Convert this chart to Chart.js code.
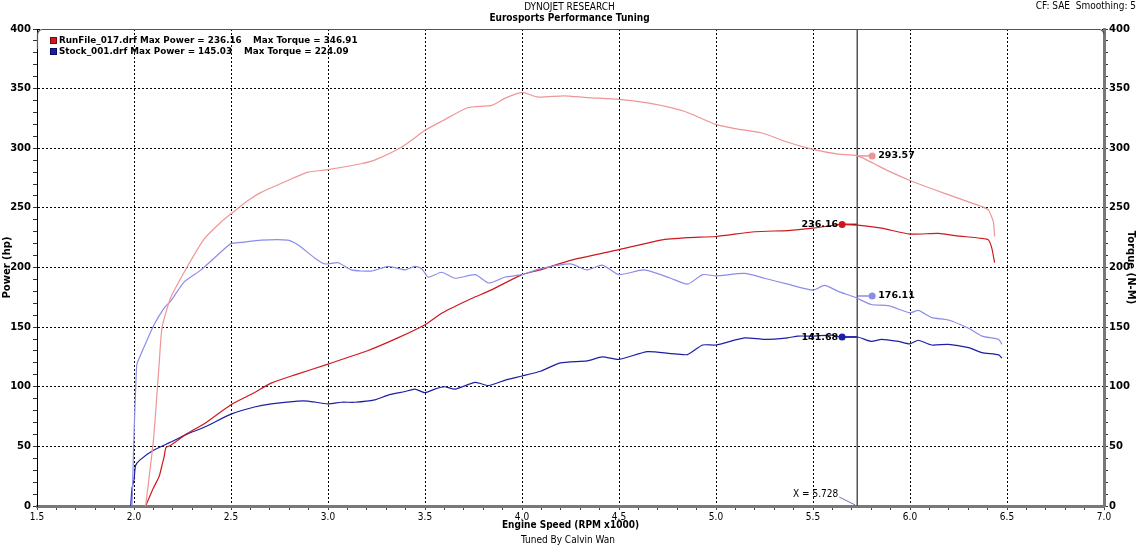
<!DOCTYPE html>
<html>
<head>
<meta charset="utf-8">
<script src="https://cdn.jsdelivr.net/npm/chart.js@4.4.1/dist/chart.umd.min.js"></script>
<style>
  html, body { margin: 0; padding: 0; background: #fff; overflow: hidden; }
  #wrap { position: relative; width: 1139px; height: 546px; }
</style>
</head>
<body>
<div id="wrap"><canvas id="dyno"></canvas></div>
<script>
// RunFile_017 power (hp) vs engine speed (RPM x1000)
const RUN_POWER_RPM = [2.06, 2.10, 2.13, 2.147, 2.155, 2.165, 2.19, 2.276, 2.362, 2.5, 2.62, 2.707, 2.83, 3.0, 3.2, 3.36, 3.5, 3.59, 3.74, 3.84, 4.0, 4.095, 4.25, 4.5, 4.716, 4.853, 5.0, 5.2, 5.37, 5.5, 5.646, 5.73, 5.853, 6.0, 6.147, 6.233, 6.371, 6.405, 6.422, 6.436];
const RUN_POWER_HP = [0, 15, 25, 36, 41, 49, 51, 61, 69, 85, 95, 103, 110, 119, 130, 141, 152, 162, 174, 181, 194, 198, 206, 215, 223, 225, 226, 230, 231, 233, 236.16, 235.5, 233, 228, 228.6, 226.7, 224.4, 223, 216, 204];

// RunFile_017 torque (N-M)
const RUN_TORQUE_RPM = [2.06, 2.10, 2.13, 2.145, 2.19, 2.276, 2.362, 2.448, 2.5, 2.586, 2.655, 2.793, 2.897, 3.0, 3.17, 3.24, 3.38, 3.5, 3.59, 3.72, 3.845, 3.914, 4.0, 4.078, 4.216, 4.336, 4.5, 4.647, 4.767, 4.853, 5.0, 5.112, 5.233, 5.37, 5.5, 5.63, 5.73, 5.888, 6.0, 6.13, 6.233, 6.371, 6.405, 6.43, 6.436];
const RUN_TORQUE_NM = [0, 55, 120, 150, 175, 201, 224, 238, 245, 256, 263, 273, 280, 282, 287, 290, 301, 315, 323, 334, 336, 342, 346.9, 343, 344, 342.5, 341, 338, 334, 330, 320, 316, 313, 305, 299, 295, 293.6, 281, 273, 265, 259, 251, 248, 238, 226];

// Stock_001 power (hp)
const STOCK_POWER_RPM = [1.983, 1.99, 2.0, 2.008, 2.03, 2.10, 2.19, 2.276, 2.362, 2.5, 2.621, 2.707, 2.845, 2.897, 3.0, 3.069, 3.138, 3.241, 3.31, 3.397, 3.448, 3.5, 3.55, 3.60, 3.655, 3.759, 3.828, 3.914, 4.0, 4.095, 4.198, 4.336, 4.414, 4.5, 4.647, 4.767, 4.853, 4.931, 5.0, 5.147, 5.25, 5.37, 5.422, 5.5, 5.595, 5.646, 5.73, 5.80, 5.853, 5.94, 6.0, 6.043, 6.112, 6.198, 6.302, 6.371, 6.457, 6.474];
const STOCK_POWER_HP = [0, 15, 22, 34, 38.5, 46.7, 53.6, 60.5, 66, 77, 83, 85.6, 88, 88, 85.6, 87, 87, 89, 93, 96, 98, 95, 98, 100, 98, 103.6, 101, 105.6, 109, 113, 120, 121.7, 125, 123, 129.4, 127.8, 127, 135, 135, 141, 139.7, 141, 142.5, 142.5, 143.3, 141.7, 141.7, 138, 139.7, 138, 136, 139, 135, 135.6, 132.8, 128.6, 126.7, 124];

// Stock_001 torque (N-M)
const STOCK_TORQUE_RPM = [1.99, 2.0, 2.01, 2.015, 2.035, 2.10, 2.155, 2.19, 2.259, 2.345, 2.448, 2.5, 2.552, 2.655, 2.793, 2.845, 2.931, 2.983, 3.052, 3.12, 3.224, 3.31, 3.397, 3.448, 3.483, 3.517, 3.586, 3.655, 3.759, 3.828, 3.914, 4.0, 4.095, 4.25, 4.336, 4.414, 4.5, 4.63, 4.767, 4.853, 4.931, 5.0, 5.147, 5.25, 5.37, 5.5, 5.56, 5.63, 5.716, 5.80, 5.888, 6.0, 6.043, 6.112, 6.198, 6.302, 6.371, 6.457, 6.474];
const STOCK_TORQUE_NM = [0, 60, 105, 119, 127, 151, 166, 172, 188, 198, 213, 220, 221, 223, 223, 219, 208, 203, 204, 198, 197, 201, 198, 201, 199, 192, 196, 191, 194, 187, 192, 194, 199, 203, 198, 202, 194, 198, 191, 186, 194, 193, 195, 191, 186, 181, 185, 180, 175, 169, 168, 162, 164, 158, 156, 149, 142.5, 139.7, 135.6];

// legend text
const RUN_NAMES = ["RunFile_017.drf", "Stock_001.drf"];
const MAX_POWER = [236.16, 145.03];
const MAX_TORQUE = [346.91, 224.09];

// cursor and its readouts (run power, run torque, stock torque, stock power)
const CURSOR_RPM = 5.728;
const MARK_RPM = [5.65, 5.805, 5.805, 5.65];
const MARK_VAL = [236.16, 293.57, 176.11, 141.68];

const C_RUN_HP = "rgb(205,25,30)";
const C_RUN_NM = "rgb(238,150,150)";
const C_STK_HP = "rgb(30,30,165)";
const C_STK_NM = "rgb(140,140,232)";
const MARK_COLORS = [C_RUN_HP, C_RUN_NM, C_STK_NM, C_STK_HP];

const COND = "'DejaVu Sans Condensed', 'Liberation Sans Narrow', 'DejaVu Sans', sans-serif";
const WIDE = "'DejaVu Sans', Verdana, sans-serif";

function pts(xs, ys) {
  return xs.map((x, i) => ({ x: x, y: ys[i] }));
}

function curve(label, xs, ys, color, axis) {
  return {
    label: label,
    data: pts(xs, ys),
    yAxisID: axis,
    borderColor: color,
    borderWidth: 1.2,
    pointRadius: 0,
    tension: 0.2,
    fill: false,
  };
}

const markerSets = MARK_RPM.map((r, i) => ({
  label: "mark" + i,
  data: [{ x: CURSOR_RPM, y: MARK_VAL[i] }, { x: r, y: MARK_VAL[i] }],
  borderColor: i == 0 ? "#222" : MARK_COLORS[i],
  backgroundColor: MARK_COLORS[i],
  borderWidth: 1.5,
  pointRadius: [0, 3.5],
  pointBorderWidth: 0,
}));

const overlay = {
  id: "overlay",
  afterDraw(chart) {
    const { ctx, chartArea: a, scales } = chart;
    const sx = scales.x, sy = scales.y;
    ctx.save();

    // top frame with rounded corners
    ctx.strokeStyle = "#555";
    ctx.lineWidth = 1.2;
    ctx.beginPath();
    ctx.moveTo(a.left + 0.5, a.top + 20);
    ctx.arcTo(a.left + 0.5, a.top + 0.5, a.left + 10, a.top + 0.5, 5);
    ctx.lineTo(a.right - 8, a.top + 0.5);
    ctx.arcTo(a.right, a.top + 0.5, a.right, a.top + 10, 5);
    ctx.stroke();

    ctx.fillStyle = "#000";
    ctx.textBaseline = "middle";
    ctx.font = "10px " + COND;
    ctx.textAlign = "right";
    ctx.fillText("CF: SAE  Smoothing: 5", 1136, 6);

    ctx.textAlign = "center";
    ctx.fillText("Tuned By Calvin Wan", 568, 540);

    // legend inside plot
    const sq = [[C_RUN_HP, "rgb(120,10,10)"], [C_STK_HP, "rgb(10,10,90)"]];
    const torqueX = [253, 244];
    ctx.font = "bold 8.8px " + WIDE;
    ctx.textAlign = "left";
    for (let i = 0; i < RUN_NAMES.length; i++) {
      const yy = a.top + 12 + i * 11;
      ctx.fillStyle = sq[i][0];
      ctx.fillRect(a.left + 13, yy - 4, 7, 7);
      ctx.strokeStyle = sq[i][1];
      ctx.lineWidth = 1;
      ctx.strokeRect(a.left + 13.5, yy - 3.5, 6, 6);
      ctx.fillStyle = "#000";
      ctx.fillText(RUN_NAMES[i] + " Max Power = " + MAX_POWER[i].toFixed(2), a.left + 22, yy);
      ctx.fillText("Max Torque = " + MAX_TORQUE[i].toFixed(2), torqueX[i], yy);
    }

    // readout labels
    ctx.font = "bold 9.5px " + WIDE;
    for (let i = 0; i < MARK_RPM.length; i++) {
      const px = sx.getPixelForValue(MARK_RPM[i]);
      const py = sy.getPixelForValue(MARK_VAL[i]);
      if (MARK_RPM[i] < CURSOR_RPM) {
        ctx.textAlign = "right";
        ctx.fillText(MARK_VAL[i].toFixed(2), px - 4, py);
      } else {
        ctx.textAlign = "left";
        ctx.fillText(MARK_VAL[i].toFixed(2), px + 6, py);
      }
    }

    // cursor label
    const cx = sx.getPixelForValue(CURSOR_RPM);
    ctx.font = "10px " + COND;
    ctx.textAlign = "right";
    ctx.fillText("X = " + CURSOR_RPM.toFixed(3), cx - 19, a.bottom - 12);
    ctx.strokeStyle = "rgb(110,110,200)";
    ctx.lineWidth = 1;
    ctx.beginPath();
    ctx.moveTo(cx - 18, a.bottom - 9);
    ctx.lineTo(cx - 2, a.bottom - 1);
    ctx.stroke();
    ctx.restore();
  },
};

const majorY = (ctx) => (ctx.tick && ctx.tick.value % 50 === 0 ? "#000" : "rgba(0,0,0,0)");
const majorX = (ctx) => (ctx.tick && Math.round(ctx.tick.value * 10) % 5 === 0 ? "#000" : "rgba(0,0,0,0)");

new Chart(document.getElementById("dyno"), {
  type: "line",
  data: {
    datasets: [
      curve("RunFile torque", RUN_TORQUE_RPM, RUN_TORQUE_NM, C_RUN_NM, "y2"),
      curve("Stock torque", STOCK_TORQUE_RPM, STOCK_TORQUE_NM, C_STK_NM, "y2"),
      curve("RunFile power", RUN_POWER_RPM, RUN_POWER_HP, C_RUN_HP, "y"),
      curve("Stock power", STOCK_POWER_RPM, STOCK_POWER_HP, C_STK_HP, "y"),
      {
        label: "cursor",
        data: [{ x: CURSOR_RPM, y: 0 }, { x: CURSOR_RPM, y: 400 }],
        borderColor: "rgb(85,85,85)",
        borderWidth: 1.5,
        pointRadius: 0,
      },
      ...markerSets,
    ],
  },
  options: {
    responsive: true,
    maintainAspectRatio: false,
    animation: false,
    layout: { padding: { top: 0, left: 0, right: 0, bottom: 14 } },
    plugins: {
      legend: { display: false },
      tooltip: { enabled: false },
      title: {
        display: true,
        text: "DYNOJET RESEARCH",
        color: "#000",
        font: { family: COND, size: 10, weight: "normal", lineHeight: 1.1 },
        padding: { top: 2, bottom: 0 },
      },
      subtitle: {
        display: true,
        text: "Eurosports Performance Tuning",
        color: "#000",
        font: { family: COND, size: 10, weight: "bold", lineHeight: 1.1 },
        padding: { top: 0, bottom: 5 },
      },
    },
    scales: {
      x: {
        type: "linear",
        min: 1.5,
        max: 7.0,
        afterFit: (s) => { s.height = 26; },
        ticks: {
          stepSize: 0.1,
          autoSkip: false,
          maxRotation: 0,
          minRotation: 0,
          padding: 1,
          color: "#000",
          font: { family: COND, size: 10 },
          callback: (v) => (Math.round(v * 10) % 5 === 0 ? v.toFixed(1) : ""),
        },
        grid: { color: majorX, tickColor: "#444", tickLength: 4, lineWidth: 1 },
        border: { dash: [2, 2], color: "rgb(120,120,120)", width: 3 },
        title: {
          display: true,
          text: "Engine Speed (RPM x1000)",
          color: "#000",
          font: { family: COND, size: 10, weight: "bold", lineHeight: 1.1 },
          padding: { top: 0, bottom: 1.5 },
        },
      },
      y: {
        position: "left",
        min: 0,
        max: 400,
        afterFit: (s) => { s.width = 37; },
        ticks: {
          stepSize: 10,
          autoSkip: false,
          padding: 2,
          color: "#000",
          font: { family: WIDE, size: 10, weight: "bold" },
          callback: (v) => (v % 50 === 0 ? v : ""),
        },
        grid: { color: majorY, tickColor: "#333", tickLength: 4, lineWidth: 1 },
        border: { dash: [2, 2], color: "#000", width: 1 },
        title: {
          display: true,
          text: "Power (hp)",
          color: "#000",
          font: { family: WIDE, size: 10, weight: "bold", lineHeight: 1.1 },
          padding: { top: 1.5, bottom: 0 },
        },
      },
      y2: {
        position: "right",
        min: 0,
        max: 400,
        afterFit: (s) => { s.width = 35; },
        ticks: {
          stepSize: 10,
          autoSkip: false,
          padding: 1,
          color: "#000",
          font: { family: WIDE, size: 10, weight: "bold" },
          callback: (v) => (v % 50 === 0 ? v : ""),
        },
        grid: { drawOnChartArea: false, tickColor: "#333", tickLength: 4 },
        border: { color: "rgb(120,120,120)", width: 3 },
        title: {
          display: true,
          text: "Torque (N-M)",
          color: "#000",
          font: { family: WIDE, size: 10, weight: "bold", lineHeight: 1.1 },
          padding: { top: 2.5, bottom: 0 },
        },
      },
    },
  },
  plugins: [overlay],
});
</script>
</body>
</html>
